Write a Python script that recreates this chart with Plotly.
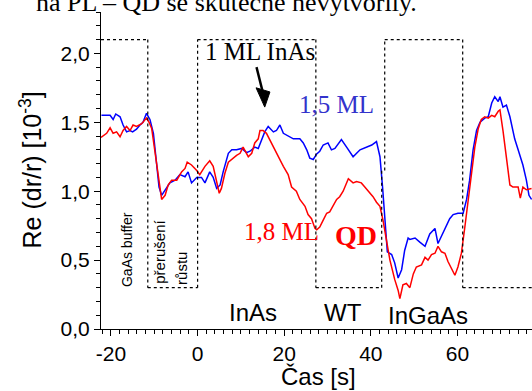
import plotly.graph_objects as go

# ---------------- data ----------------
blue_t = [-22.2, -20.2, -19.5, -18.9, -17.9, -17.2, -16.4, -15.6, -15.0, -14.1, -13.3, -12.6, -11.8, -11.0,
          -10.2, -9.5, -8.9, -8.3, -7.5, -6.4, -5.2, -4.1, -2.9, -2.2, -1.4, -0.2, 0.9, 1.7, 2.8, 3.6,
          4.4, 5.2, 5.9, 7.1, 7.9, 9.0, 10.2, 11.3, 12.1, 13.2, 14.0, 14.8, 15.5, 16.3, 17.5, 18.2,
          19.0, 19.8, 20.9, 22.1, 23.6, 24.4, 25.2, 25.9, 26.7, 27.5, 28.2, 29.0, 30.1, 30.9, 31.7,
          33.2, 34.4, 35.9, 37.5, 39.0, 40.2, 41.3, 42.1, 42.7, 43.2, 43.8, 44.8, 45.5, 46.3, 47.1,
          47.8, 48.6, 49.0, 50.2, 51.3, 52.5, 53.6, 54.8, 55.5, 56.3, 57.1, 58.2, 59.0, 60.1, 61.3,
          62.1, 62.8, 63.6, 64.4, 65.2, 66.3, 67.1, 67.9, 68.6, 69.4, 69.8, 70.5, 71.3, 72.1, 73.2,
          74.0, 75.1, 75.9, 76.5, 77.1]
blue_v = [1.55, 1.55, 1.52, 1.56, 1.54, 1.48, 1.43, 1.44, 1.43, 1.45, 1.48, 1.50, 1.565, 1.52,
          1.42, 1.23, 1.03, 0.97, 1.01, 1.06, 1.08, 1.12, 1.105, 1.14, 1.06, 1.10, 1.10, 1.06, 1.14, 1.10,
          1.02, 1.045, 1.14, 1.275, 1.30, 1.30, 1.31, 1.28, 1.29, 1.32, 1.31, 1.38, 1.43, 1.47, 1.43, 1.44,
          1.48, 1.42, 1.40, 1.38, 1.38, 1.35, 1.30, 1.24, 1.23, 1.27, 1.29, 1.335, 1.35, 1.30, 1.31,
          1.375, 1.32, 1.25, 1.30, 1.32, 1.335, 1.36, 1.25, 1.03, 0.79, 0.56, 0.54, 0.48, 0.37, 0.43,
          0.57, 0.66, 0.65, 0.66, 0.63, 0.60, 0.69, 0.73, 0.62, 0.67, 0.73, 0.80, 0.83, 0.84, 0.84,
          0.94, 1.08, 1.30, 1.44, 1.50, 1.53, 1.54, 1.64, 1.685, 1.65, 1.685, 1.61, 1.625, 1.54, 1.38,
          1.30, 1.19, 1.08, 0.97, 0.94]

red_t = [-22.3, -21.8, -21.0, -20.2, -19.5, -18.7, -17.9, -17.2, -16.4, -15.6, -14.9, -14.1, -12.9, -11.8,
         -11.2, -10.6, -9.9, -9.1, -8.3, -7.5, -6.8, -6.0, -4.8, -3.7, -2.9, -2.4, -1.4, -0.2, 0.5, 1.7,
         2.8, 3.6, 4.4, 5.0, 5.5, 6.3, 7.1, 8.2, 9.0, 9.8, 10.5, 11.7, 12.5, 13.2, 14.0, 14.4, 15.1,
         15.9, 16.7, 17.4, 18.6, 19.8, 20.9, 21.7, 22.8, 23.6, 24.8, 25.5, 26.3, 27.1, 27.5, 28.2,
         29.0, 29.8, 30.5, 31.3, 32.1, 32.8, 33.6, 34.8, 35.9, 36.7, 37.8, 38.6, 39.4, 40.5, 41.3,
         42.1, 42.8, 43.6, 44.4, 45.5, 46.3, 46.7, 47.4, 48.2, 49.0, 49.8, 50.5, 51.7, 52.5, 53.2,
         54.0, 54.8, 55.5, 56.3, 57.1, 57.8, 58.6, 59.4, 60.1, 60.9, 61.7, 62.5, 63.2, 64.0, 64.8,
         65.5, 66.3, 67.1, 67.9, 68.6, 69.4, 69.8, 70.5, 71.3, 72.1, 72.8, 74.0, 74.5, 75.1, 75.9, 77.1]
red_v = [1.39, 1.40, 1.42, 1.46, 1.42, 1.43, 1.395, 1.44, 1.47, 1.44, 1.48, 1.47, 1.49, 1.53,
         1.50, 1.455, 1.30, 1.105, 0.94, 0.97, 1.045, 1.08, 1.08, 1.14, 1.165, 1.21, 1.19, 1.15, 1.12, 1.18,
         1.22, 1.18, 1.08, 0.985, 1.02, 1.13, 1.21, 1.24, 1.26, 1.275, 1.32, 1.25, 1.275, 1.35, 1.38, 1.44, 1.44,
         1.42, 1.37, 1.32, 1.25, 1.18, 1.12, 1.03, 1.00, 0.94, 0.89, 0.83, 0.80, 0.73, 0.72, 0.74,
         0.79, 0.84, 0.85, 0.90, 0.94, 0.96, 1.00, 1.09, 1.06, 1.07, 1.06, 1.03, 1.00, 0.96, 0.92,
         0.89, 0.79, 0.65, 0.50, 0.36, 0.28, 0.22, 0.32, 0.33, 0.30, 0.40, 0.45, 0.465, 0.52, 0.50,
         0.54, 0.55, 0.60, 0.56, 0.55, 0.49, 0.44, 0.39, 0.45, 0.55, 0.74, 0.94, 1.13, 1.32, 1.455,
         1.52, 1.54, 1.53, 1.55, 1.54, 1.58, 1.59, 1.44, 1.25, 1.045, 1.03, 1.03, 0.95, 1.03, 1.01, 1.02]

x_tickvals = [-20, 0, 20, 40, 60]
x_ticktext = ["-20", "0", "20", "40", "60"]
y_tickvals = [0, 0.5, 1.0, 1.5, 2.0]
y_ticktext = ["0,0", "0,5", "1,0", "1,5", "2,0"]

# growth phase boundaries (s) and dotted-frame levels
phase_edges = [-22.3, -11.5, 0.0, 27.3, 42.8, 61.2, 77.5]
frame_high = 2.1
frame_low = 0.3

X_RANGE = [-22.3, 77.2]
Y_RANGE = [0, 2.3]

fig = go.Figure()
fig.add_trace(go.Scatter(x=blue_t, y=blue_v, mode="lines", name="1,5 ML",
                         line=dict(color="#0000ff", width=1.5)))
fig.add_trace(go.Scatter(x=red_t, y=red_v, mode="lines", name="1,8 ML",
                         line=dict(color="#ff0000", width=1.5)))

# dotted frames (step outline)
dot = dict(color="black", width=1.2, dash="dot")
e = phase_edges
segs = [
    (e[0], frame_high, e[1], frame_high),
    (e[1], frame_high, e[1], frame_low),
    (e[1], frame_low, e[2], frame_low),
    (e[2], frame_low, e[2], frame_high),
    (e[2], frame_high, e[3], frame_high),
    (e[3], frame_high, e[3], frame_low),
    (e[3], frame_low, e[4] - 0.3, frame_low),
    (e[4] - 0.3, frame_low, e[4] - 0.3, 1.15),
    (e[4] + 0.4, 1.15, e[4] + 0.4, frame_high),
    (e[4] + 0.4, frame_high, e[5], frame_high),
    (e[5], frame_high, e[5], frame_low),
    (e[5], frame_low, e[6], frame_low),
]
for x0, y0, x1, y1 in segs:
    fig.add_shape(type="line", x0=x0, y0=y0, x1=x1, y1=y1, xref="x", yref="y", line=dot, layer="above")

# arrow pointing at the 1 ML InAs moment (shaft + filled head)
arrow_tail = (13.6, 1.90)
arrow_tip = (15.5, 1.61)
fig.add_shape(type="line", x0=arrow_tail[0], y0=arrow_tail[1], x1=15.2, y1=1.70, xref="x", yref="y",
              line=dict(color="black", width=2.5))
fig.add_shape(type="path", xref="x", yref="y", fillcolor="black", line=dict(color="black", width=1),
              path=f"M {arrow_tip[0]} {arrow_tip[1]} L 13.5 1.75 L 16.7 1.72 Z")

serif = "Liberation Serif, Times New Roman, serif"
sans = "Liberation Sans, Arial, sans-serif"

ann = [
    dict(x=14.4, y=2.01, text="1 ML InAs", font=dict(family=serif, size=25, color="black")),
    dict(x=32.0, y=1.63, text="1,5 ML", font=dict(family=serif, size=25, color="#3333cc")),
    dict(x=19.3, y=0.71, text="1,8 ML", font=dict(family=serif, size=25, color="#ff0000")),
    dict(x=36.6, y=0.68, text="<b>QD</b>", font=dict(family=serif, size=28, color="#ff0000")),
    dict(x=12.8, y=0.12, text="InAs", font=dict(family=sans, size=24, color="black")),
    dict(x=33.5, y=0.12, text="WT", font=dict(family=sans, size=24, color="black")),
    dict(x=53.1, y=0.10, text="InGaAs", font=dict(family=sans, size=24, color="black")),
    dict(x=-16.3, y=0.58, text="GaAs buffer", textangle=-90, font=dict(family=sans, size=14, color="black")),
    dict(x=-8.7, y=0.56, text="přerušení", textangle=-90, font=dict(family=sans, size=15, color="black")),
    dict(x=-3.7, y=0.44, text="růstu", textangle=-90, font=dict(family=sans, size=15, color="black")),
]
for a in ann:
    fig.add_annotation(xref="x", yref="y", showarrow=False, **a)

# axis titles as annotations
fig.add_annotation(xref="paper", yref="paper", x=(30 - 101) / 431, y=0.5, xanchor="center", yanchor="middle",
                   text="Re (dr/r) [10<sup>-3</sup>]", textangle=-90, showarrow=False,
                   font=dict(family=sans, size=25, color="black"))
fig.add_annotation(xref="paper", yref="paper", x=(318 - 101) / 431, y=-(376 - 329) / 317,
                   xanchor="center", yanchor="middle", text="Čas [s]", showarrow=False,
                   font=dict(family=sans, size=24, color="black"))
# cropped document text at top
fig.add_annotation(xref="paper", yref="paper", x=(419 - 101) / 431, y=1 + (12 - 3) / 317,
                   xanchor="right", yanchor="middle", text="na PL – QD se skutečně nevytvořily.",
                   showarrow=False, font=dict(family=serif, size=26, color="black"))

fig.update_layout(
    width=532, height=391,
    margin=dict(l=101, r=0, t=12, b=62),
    paper_bgcolor="white", plot_bgcolor="white",
    showlegend=False,
    font=dict(family=sans, size=21, color="black"),
)
fig.update_xaxes(range=X_RANGE, showgrid=False, zeroline=False, showline=True, linecolor="black", linewidth=1.2,
                 tickmode="array", tickvals=x_tickvals, ticktext=x_ticktext,
                 ticks="outside", ticklen=6, tickwidth=1.2, tickcolor="black",
                 tickfont=dict(family=sans, size=21),
                 minor=dict(tickmode="linear", tick0=0, dtick=2, ticks="outside", ticklen=4,
                            tickwidth=1, tickcolor="black"))
fig.update_yaxes(range=Y_RANGE, showgrid=False, zeroline=False, showline=True, linecolor="black", linewidth=1.2,
                 tickmode="array", tickvals=y_tickvals, ticktext=y_ticktext,
                 ticks="outside", ticklen=6, tickwidth=1.2, tickcolor="black",
                 tickfont=dict(family=sans, size=21),
                 minor=dict(tickmode="linear", tick0=0, dtick=0.1, ticks="outside", ticklen=4,
                            tickwidth=1, tickcolor="black"))

fig.write_html("out.html", config={"displayModeBar": False},
               post_script="document.body.style.margin='0';document.body.style.overflow='hidden';")
